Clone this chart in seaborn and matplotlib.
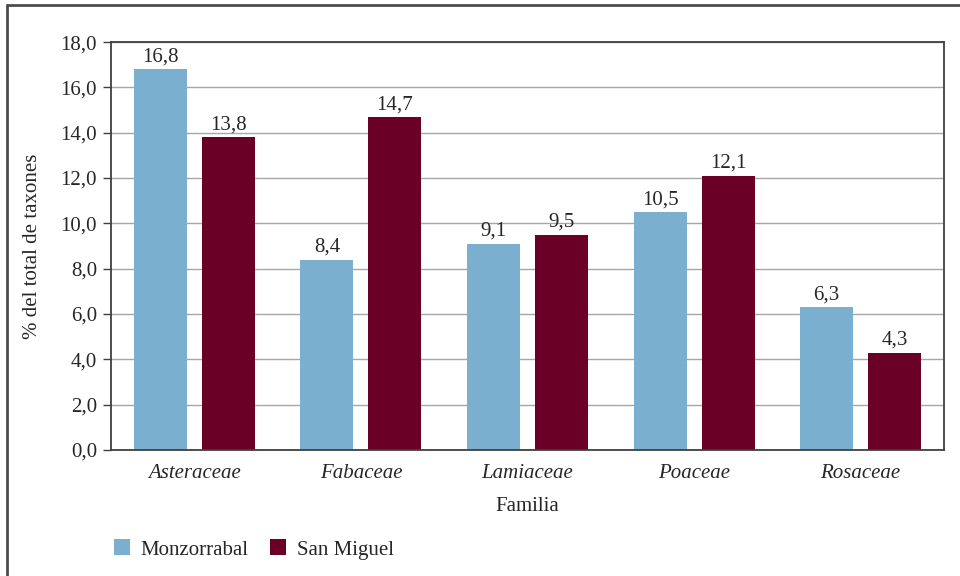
import pandas as pd
import matplotlib.pyplot as plt
import seaborn as sns
from matplotlib.lines import Line2D
from matplotlib.ticker import FixedLocator

familias = ['Asteraceae', 'Fabaceae', 'Lamiaceae', 'Poaceae', 'Rosaceae']
monzorrabal = [16.8, 8.4, 9.1, 10.5, 6.3]
san_miguel = [13.8, 14.7, 9.5, 12.1, 4.3]
sitios = ['Monzorrabal', 'San Miguel']
colores = ['#7BAFD0', '#6B0026']

df = pd.DataFrame({
    'Familia': familias * 2,
    'valor': monzorrabal + san_miguel,
    'Sitio': [sitios[0]] * len(familias) + [sitios[1]] * len(familias),
})

sns.set_style('white')
plt.rcParams['font.family'] = ['Liberation Serif', 'DejaVu Serif']
fs = 15

fig = plt.figure(figsize=(9.6, 5.76), dpi=100)
ax = fig.add_axes([0.1156, 0.2187, 0.8677, 0.7083])

sns.barplot(data=df, x='Familia', y='valor', hue='Sitio', palette=colores,
            width=0.816, gap=0.22, saturation=1, linewidth=0, edgecolor='none',
            ax=ax, legend=True)

ax.set_ylim(0, 18)
ax.set_yticks([0, 2, 4, 6, 8, 10, 12, 14, 16, 18])
ax.set_yticklabels([f'{v:.1f}'.replace('.', ',') for v in ax.get_yticks()], fontsize=fs)
ax.yaxis.grid(True, color='#A6A6A6', lw=1)
ax.set_axisbelow(True)

# category labels italic, ticks between categories
ax.set_xlim(-0.5, len(familias) - 0.5)
ax.set_xticks(range(len(familias)))
ax.set_xticklabels(familias, fontsize=fs, style='italic')
ax.tick_params(axis='x', which='major', length=0, pad=10)
ax.xaxis.set_minor_locator(FixedLocator([i - 0.5 for i in range(len(familias) + 1)]))
ax.tick_params(axis='x', which='minor', length=6, width=1, color='#404040', direction='out')
ax.tick_params(axis='y', length=6, width=1, color='#404040', direction='out', left=True, pad=4)

for cont in ax.containers:
    ax.bar_label(cont, labels=[f'{v:.1f}'.replace('.', ',') for v in cont.datavalues],
                 padding=2, fontsize=fs)

for s in ax.spines.values():
    s.set_color('#404040')
    s.set_linewidth(1.3)

ax.set_xlabel('Familia', fontsize=fs, labelpad=10)
ax.set_ylabel('% del total de taxones', fontsize=fs, labelpad=13)

handles, labels = ax.get_legend_handles_labels()
ax.legend(handles, labels, loc='center left', bbox_to_anchor=(0.099, 0.046),
          bbox_transform=fig.transFigure, ncol=2, frameon=False, fontsize=fs,
          handlelength=0.8, handleheight=0.8, handletextpad=0.5, columnspacing=1.0)

# outer frame (left and top visible)
fig.add_artist(Line2D([0.0073, 0.0073], [0, 0.991], transform=fig.transFigure, color='#4D4D4D', lw=2))
fig.add_artist(Line2D([0.0073, 1.0], [0.991, 0.991], transform=fig.transFigure, color='#4D4D4D', lw=2))

fig.savefig('out.png', dpi=100)
